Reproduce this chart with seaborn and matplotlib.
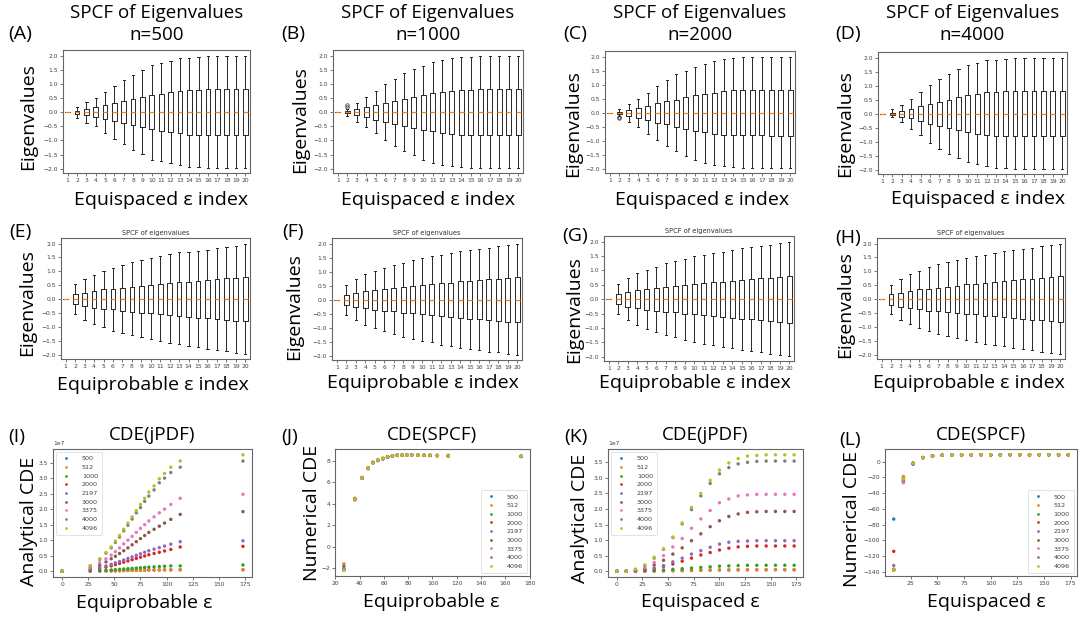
import numpy as np
import pandas as pd
import matplotlib
matplotlib.use("Agg")
import matplotlib.pyplot as plt
import seaborn as sns

W, H = 1080, 620
BIG = ['Open Sans', 'DejaVu Sans']

# ---------------- box statistics (eigenvalue SPCF) ----------------
IDX = list(range(1, 21))
MED = [0.0] * 20

A_hi = [0, 0.2, 0.35, 0.5, 0.72, 0.93, 1.15, 1.33, 1.5, 1.68, 1.75, 1.82, 1.9, 1.93, 1.96, 1.98, 2.0, 2.0, 2.0, 2.0]
A_q3 = [0, 0.05, 0.1, 0.18, 0.25, 0.32, 0.38, 0.46, 0.53, 0.6, 0.66, 0.7, 0.75, 0.78, 0.8, 0.81, 0.81, 0.81, 0.81, 0.81]
A_q1 = [0, -0.05, -0.1, -0.17, -0.25, -0.31, -0.38, -0.46, -0.53, -0.6, -0.66, -0.7, -0.75, -0.79, -0.8, -0.81, -0.81, -0.81, -0.81, -0.81]
A_lo = [0, -0.2, -0.38, -0.5, -0.72, -0.93, -1.12, -1.32, -1.47, -1.7, -1.72, -1.8, -1.87, -1.93, -1.95, -1.97, -1.98, -1.98, -1.98, -1.98]

B_hi = [0, 0.12, 0.33, 0.53, 0.75, 1.0, 1.18, 1.4, 1.53, 1.65, 1.78, 1.85, 1.9, 1.95, 1.97, 1.98, 1.98, 2.0, 2.0, 2.0]
B_q3 = [0, 0.04, 0.1, 0.17, 0.25, 0.33, 0.4, 0.48, 0.55, 0.62, 0.68, 0.72, 0.76, 0.79, 0.8, 0.81, 0.81, 0.81, 0.81, 0.81]
B_q1 = [0, -0.03, -0.1, -0.17, -0.26, -0.35, -0.42, -0.48, -0.56, -0.63, -0.68, -0.75, -0.78, -0.8, -0.8, -0.81, -0.81, -0.81, -0.81, -0.81]
B_lo = [0, -0.15, -0.35, -0.52, -0.75, -1.0, -1.2, -1.38, -1.52, -1.68, -1.78, -1.85, -1.9, -1.95, -1.97, -1.98, -1.98, -1.98, -1.98, -1.98]
B_fl2 = [0.2, 0.27]

C_hi = [0, 0.13, 0.3, 0.5, 0.72, 0.95, 1.18, 1.37, 1.5, 1.63, 1.75, 1.85, 1.9, 1.95, 1.97, 1.98, 1.98, 1.98, 2.0, 2.0]
C_q3 = [0, 0.03, 0.08, 0.17, 0.25, 0.33, 0.4, 0.47, 0.55, 0.62, 0.68, 0.72, 0.76, 0.8, 0.8, 0.81, 0.81, 0.81, 0.81, 0.81]
C_q1 = [0, -0.06, -0.1, -0.18, -0.27, -0.35, -0.42, -0.5, -0.57, -0.64, -0.7, -0.75, -0.78, -0.8, -0.81, -0.81, -0.81, -0.82, -0.82, -0.82]
C_lo = [0, -0.12, -0.32, -0.52, -0.75, -0.97, -1.18, -1.38, -1.53, -1.68, -1.78, -1.85, -1.9, -1.95, -1.97, -1.98, -1.98, -1.98, -1.98, -1.98]
C_fl2 = [-0.15, -0.2]

D_hi = [0, 0.15, 0.3, 0.53, 0.77, 1.02, 1.23, 1.4, 1.58, 1.72, 1.82, 1.9, 1.93, 1.95, 1.97, 1.98, 1.98, 2.0, 2.0, 2.0]
D_q3 = [0, 0.03, 0.08, 0.18, 0.26, 0.35, 0.42, 0.5, 0.58, 0.65, 0.72, 0.76, 0.78, 0.8, 0.8, 0.81, 0.81, 0.81, 0.81, 0.81]
D_q1 = [0, -0.03, -0.1, -0.17, -0.27, -0.35, -0.43, -0.5, -0.58, -0.65, -0.72, -0.77, -0.78, -0.8, -0.8, -0.81, -0.81, -0.81, -0.81, -0.81]
D_lo = [0, -0.13, -0.3, -0.55, -0.77, -1.03, -1.25, -1.42, -1.58, -1.72, -1.8, -1.88, -1.92, -1.95, -1.97, -1.98, -1.98, -1.98, -1.98, -1.98]

E_hi = [0, 0.53, 0.73, 0.88, 1.02, 1.13, 1.22, 1.32, 1.4, 1.48, 1.55, 1.62, 1.68, 1.7, 1.74, 1.78, 1.85, 1.88, 1.92, 2.0]
E_q3 = [0, 0.18, 0.24, 0.3, 0.35, 0.38, 0.42, 0.45, 0.49, 0.52, 0.56, 0.59, 0.62, 0.63, 0.66, 0.7, 0.73, 0.76, 0.77, 0.8]
E_q1 = [0, -0.18, -0.25, -0.3, -0.34, -0.37, -0.41, -0.45, -0.49, -0.51, -0.55, -0.58, -0.61, -0.64, -0.66, -0.69, -0.72, -0.76, -0.78, -0.8]
E_lo = [0, -0.55, -0.73, -0.9, -1.0, -1.13, -1.22, -1.3, -1.37, -1.43, -1.5, -1.57, -1.62, -1.68, -1.72, -1.78, -1.82, -1.87, -1.92, -1.96]

F_hi = [0, 0.53, 0.74, 0.9, 1.03, 1.12, 1.25, 1.32, 1.42, 1.48, 1.55, 1.6, 1.65, 1.72, 1.77, 1.82, 1.86, 1.9, 1.94, 2.0]
F_q3 = [0, 0.17, 0.24, 0.31, 0.35, 0.39, 0.42, 0.46, 0.49, 0.53, 0.56, 0.6, 0.61, 0.65, 0.68, 0.71, 0.74, 0.75, 0.79, 0.82]
F_q1 = [0, -0.18, -0.26, -0.3, -0.37, -0.4, -0.42, -0.46, -0.49, -0.52, -0.56, -0.59, -0.62, -0.65, -0.68, -0.7, -0.73, -0.76, -0.78, -0.8]
F_lo = [0, -0.55, -0.73, -0.9, -1.02, -1.13, -1.22, -1.32, -1.4, -1.47, -1.52, -1.6, -1.65, -1.72, -1.76, -1.8, -1.85, -1.88, -1.92, -1.97]

G_hi = [0, 0.52, 0.74, 0.9, 1.02, 1.13, 1.25, 1.32, 1.4, 1.5, 1.53, 1.6, 1.65, 1.7, 1.77, 1.8, 1.85, 1.9, 1.95, 2.0]
G_q3 = [0, 0.17, 0.24, 0.31, 0.35, 0.38, 0.42, 0.45, 0.49, 0.53, 0.56, 0.6, 0.61, 0.65, 0.67, 0.7, 0.74, 0.75, 0.78, 0.82]
G_q1 = [0, -0.18, -0.27, -0.3, -0.36, -0.4, -0.44, -0.46, -0.5, -0.53, -0.56, -0.6, -0.62, -0.65, -0.68, -0.7, -0.73, -0.76, -0.78, -0.82]
G_lo = [0, -0.52, -0.74, -0.9, -1.02, -1.15, -1.24, -1.32, -1.42, -1.5, -1.55, -1.6, -1.66, -1.7, -1.76, -1.8, -1.83, -1.9, -1.93, -1.97]

H_hi = [0, 0.52, 0.74, 0.9, 1.02, 1.16, 1.26, 1.35, 1.42, 1.48, 1.54, 1.6, 1.66, 1.72, 1.77, 1.8, 1.85, 1.9, 1.95, 2.0]
H_q3 = [0, 0.17, 0.24, 0.31, 0.35, 0.38, 0.42, 0.45, 0.49, 0.53, 0.56, 0.6, 0.61, 0.66, 0.68, 0.71, 0.74, 0.75, 0.8, 0.82]
H_q1 = [0, -0.2, -0.27, -0.31, -0.36, -0.41, -0.42, -0.46, -0.5, -0.52, -0.55, -0.59, -0.62, -0.65, -0.68, -0.7, -0.73, -0.76, -0.78, -0.82]
H_lo = [0, -0.52, -0.74, -0.9, -1.02, -1.15, -1.24, -1.33, -1.4, -1.48, -1.54, -1.6, -1.66, -1.7, -1.76, -1.8, -1.83, -1.9, -1.94, -1.98]

# ---------------- CDE scatter data ----------------
N_LABELS = ['500', '512', '1000', '2000', '2197', '3000', '3375', '4000', '4096']
COLORS = ['#1f77b4', '#ff7f0e', '#2ca02c', '#d62728', '#9467bd', '#8c564b', '#e377c2', '#7f7f7f', '#bcbd22']

EPS_PROB = [0, 27, 36, 42, 47, 51, 55, 59, 63, 67, 71, 75, 79, 83, 88, 93, 98, 104, 113, 173]
EPS_SPACE = [0, 9.1, 18.2, 27.3, 36.4, 45.5, 54.6, 63.7, 72.8, 81.9, 91.0, 100.1, 109.2, 118.3, 127.4, 136.5, 145.6, 154.7, 163.8, 172.9]

# analytical CDE vs equiprobable eps (x 1e7)
I_500 = [0, 0.0, 0.004, 0.007, 0.01, 0.012, 0.015, 0.018, 0.021, 0.024, 0.027, 0.03, 0.032, 0.035, 0.037, 0.039, 0.041, 0.043, 0.045, 0.047]
I_512 = [0, 0.0, 0.005, 0.008, 0.01, 0.013, 0.016, 0.019, 0.022, 0.025, 0.028, 0.031, 0.034, 0.037, 0.04, 0.042, 0.044, 0.046, 0.048, 0.05]
I_1000 = [0, 0.01, 0.02, 0.03, 0.04, 0.05, 0.06, 0.07, 0.08, 0.09, 0.1, 0.11, 0.12, 0.13, 0.14, 0.15, 0.16, 0.17, 0.17, 0.2]
I_2000 = [0, 0.04, 0.09, 0.13, 0.17, 0.21, 0.25, 0.29, 0.33, 0.37, 0.41, 0.45, 0.49, 0.53, 0.57, 0.61, 0.65, 0.7, 0.78, 0.8]
I_2197 = [0, 0.05, 0.12, 0.17, 0.22, 0.27, 0.31, 0.36, 0.41, 0.46, 0.51, 0.56, 0.61, 0.66, 0.71, 0.76, 0.81, 0.87, 0.95, 0.98]
I_3000 = [0, 0.1, 0.2, 0.3, 0.4, 0.48, 0.57, 0.66, 0.75, 0.85, 0.95, 1.05, 1.15, 1.25, 1.35, 1.45, 1.55, 1.67, 1.83, 1.92]
I_3375 = [0, 0.12, 0.27, 0.4, 0.52, 0.63, 0.75, 0.88, 1.0, 1.12, 1.25, 1.38, 1.5, 1.62, 1.75, 1.88, 2.0, 2.15, 2.35, 2.48]
I_4000 = [0, 0.17, 0.38, 0.58, 0.75, 0.93, 1.1, 1.3, 1.48, 1.68, 1.88, 2.05, 2.25, 2.42, 2.62, 2.85, 3.0, 3.18, 3.35, 3.55]
I_4096 = [0, 0.18, 0.4, 0.6, 0.78, 0.97, 1.15, 1.35, 1.55, 1.75, 1.95, 2.15, 2.35, 2.55, 2.75, 2.98, 3.15, 3.35, 3.55, 3.75]

# numerical CDE vs equiprobable eps
nan = float('nan')
J_500 = [nan, -1.8, 4.35, 6.35, 7.35, 7.85, 8.0, 8.15, 8.3, 8.42, 8.48, 8.5, 8.52, 8.55, 8.52, 8.5, 8.5, 8.48, 8.5, 8.42]
J_512 = [nan, -1.6, 4.5, 6.45, 7.3, 7.8, 8.05, 8.2, 8.35, 8.45, 8.5, 8.52, 8.53, 8.53, 8.5, 8.48, 8.47, 8.45, 8.42, 8.4]
J_1000 = [nan, -2.05, 4.4, 6.4, 7.3, 7.8, 8.05, 8.2, 8.35, 8.45, 8.5, 8.52, 8.53, 8.53, 8.52, 8.5, 8.5, 8.48, 8.45, 8.4]
J_2000 = [nan, -2.1, 4.4, 6.4, 7.25, 7.8, 8.05, 8.2, 8.35, 8.45, 8.5, 8.52, 8.53, 8.53, 8.52, 8.5, 8.5, 8.48, 8.45, 8.4]
J_2197 = [nan, -2.1, 4.45, 6.4, 7.3, 7.85, 8.05, 8.2, 8.35, 8.45, 8.5, 8.52, 8.53, 8.53, 8.52, 8.5, 8.5, 8.48, 8.45, 8.4]
J_3000 = [nan, -2.15, 4.4, 6.38, 7.3, 7.8, 8.05, 8.2, 8.35, 8.45, 8.5, 8.52, 8.53, 8.53, 8.52, 8.5, 8.5, 8.48, 8.45, 8.4]
J_3375 = [nan, -2.15, 4.42, 6.4, 7.3, 7.8, 8.05, 8.2, 8.35, 8.45, 8.5, 8.52, 8.53, 8.53, 8.52, 8.5, 8.5, 8.48, 8.45, 8.4]
J_4000 = [nan, -2.2, 4.4, 6.4, 7.3, 7.8, 8.05, 8.2, 8.35, 8.45, 8.5, 8.52, 8.53, 8.53, 8.52, 8.5, 8.5, 8.48, 8.45, 8.4]
J_4096 = [nan, -2.2, 4.4, 6.4, 7.3, 7.8, 8.05, 8.2, 8.35, 8.45, 8.5, 8.52, 8.53, 8.53, 8.52, 8.5, 8.5, 8.48, 8.45, 8.42]

# analytical CDE vs equispaced eps (x 1e7)
K_500 = [0, 0, 0, 0, 0.004, 0.008, 0.013, 0.018, 0.023, 0.028, 0.033, 0.037, 0.04, 0.043, 0.045, 0.046, 0.046, 0.046, 0.046, 0.046]
K_512 = [0, 0, 0, 0, 0.005, 0.01, 0.015, 0.02, 0.025, 0.03, 0.035, 0.04, 0.042, 0.045, 0.047, 0.048, 0.048, 0.048, 0.048, 0.048]
K_1000 = [0, 0, 0, 0.01, 0.02, 0.04, 0.06, 0.08, 0.1, 0.12, 0.14, 0.16, 0.17, 0.18, 0.19, 0.19, 0.19, 0.19, 0.19, 0.19]
K_2000 = [0, 0, 0.01, 0.03, 0.08, 0.15, 0.23, 0.32, 0.42, 0.52, 0.6, 0.68, 0.74, 0.78, 0.8, 0.81, 0.81, 0.81, 0.81, 0.81]
K_2197 = [0, 0, 0.01, 0.04, 0.1, 0.18, 0.3, 0.42, 0.55, 0.66, 0.77, 0.87, 0.93, 0.96, 0.97, 0.98, 0.98, 0.98, 0.98, 0.98]
K_3000 = [0, 0, 0.02, 0.08, 0.2, 0.35, 0.55, 0.75, 0.98, 1.2, 1.43, 1.62, 1.76, 1.84, 1.89, 1.91, 1.92, 1.92, 1.92, 1.92]
K_3375 = [0, 0, 0.03, 0.12, 0.28, 0.5, 0.78, 1.05, 1.38, 1.68, 1.95, 2.2, 2.32, 2.42, 2.45, 2.47, 2.47, 2.47, 2.47, 2.47]
K_4000 = [0, 0, 0.05, 0.18, 0.42, 0.7, 1.08, 1.52, 1.98, 2.42, 2.82, 3.13, 3.33, 3.45, 3.5, 3.53, 3.54, 3.54, 3.54, 3.54]
K_4096 = [0, 0, 0.07, 0.2, 0.45, 0.72, 1.1, 1.55, 2.05, 2.5, 2.92, 3.25, 3.48, 3.62, 3.7, 3.72, 3.74, 3.74, 3.74, 3.74]

# numerical CDE vs equispaced eps
L_500 = [nan, -73, -20, -2, 5, 7, 8, 8.3, 8.5, 8.6, 8.6, 8.6, 8.6, 8.6, 8.6, 8.6, 8.6, 8.6, 8.6, 8.6]
L_512 = [nan, -137, -19, -2, 5, 7, 8, 8.3, 8.5, 8.6, 8.6, 8.6, 8.6, 8.6, 8.6, 8.6, 8.6, 8.6, 8.6, 8.6]
L_1000 = [nan, -138, -22, -3, 5, 7, 8, 8.3, 8.5, 8.6, 8.6, 8.6, 8.6, 8.6, 8.6, 8.6, 8.6, 8.6, 8.6, 8.6]
L_2000 = [nan, -114, -24, -2.5, 5, 7, 8, 8.3, 8.5, 8.6, 8.6, 8.6, 8.6, 8.6, 8.6, 8.6, 8.6, 8.6, 8.6, 8.6]
L_2197 = [nan, -137, -25, -3, 5, 7, 8, 8.3, 8.5, 8.6, 8.6, 8.6, 8.6, 8.6, 8.6, 8.6, 8.6, 8.6, 8.6, 8.6]
L_3000 = [nan, -137, -26, -3, 5, 7, 8, 8.3, 8.5, 8.6, 8.6, 8.6, 8.6, 8.6, 8.6, 8.6, 8.6, 8.6, 8.6, 8.6]
L_3375 = [nan, -137, -27, -2.5, 5, 7, 8, 8.3, 8.5, 8.6, 8.6, 8.6, 8.6, 8.6, 8.6, 8.6, 8.6, 8.6, 8.6, 8.6]
L_4000 = [nan, -132, -23, -2, 5, 7, 8, 8.3, 8.5, 8.6, 8.6, 8.6, 8.6, 8.6, 8.6, 8.6, 8.6, 8.6, 8.6, 8.6]
L_4096 = [nan, -138, -22, -2, 5, 7, 8, 8.3, 8.5, 8.6, 8.6, 8.6, 8.6, 8.6, 8.6, 8.6, 8.6, 8.6, 8.6, 8.6]

I_SERIES = [I_500, I_512, I_1000, I_2000, I_2197, I_3000, I_3375, I_4000, I_4096]
J_SERIES = [J_500, J_512, J_1000, J_2000, J_2197, J_3000, J_3375, J_4000, J_4096]
K_SERIES = [K_500, K_512, K_1000, K_2000, K_2197, K_3000, K_3375, K_4000, K_4096]
L_SERIES = [L_500, L_512, L_1000, L_2000, L_2197, L_3000, L_3375, L_4000, L_4096]

# ---------------- figure ----------------
fig = plt.figure(figsize=(W / 100, H / 100), dpi=100)
fig.patch.set_facecolor('white')

LBL = 14


def add_ax(x0, y0, x1, y1):
    return fig.add_axes([x0 / W, 1 - y1 / H, (x1 - x0) / W, (y1 - y0) / H])


def ftext(x, y, s, size=13, **kw):
    fig.text(x / W, 1 - y / H, s, ha='center', va='center', fontsize=size, family=BIG, **kw)


def style_ax(ax):
    ax.tick_params(labelsize=4.3, length=2, width=0.5, pad=1.5, colors='0.25')
    for sp in ax.spines.values():
        sp.set_color('0.4')
        sp.set_linewidth(0.8)
    ax.set_facecolor('white')


def draw_box(ax, hi, q3, q1, lo, fliers2=None):
    stats = []
    for i in range(20):
        fl = fliers2 if (fliers2 is not None and i == 1) else []
        stats.append(dict(med=MED[i], q1=q1[i], q3=q3[i], whislo=lo[i], whishi=hi[i], fliers=fl))
    ax.bxp(stats, positions=IDX, widths=0.5,
           boxprops=dict(color='0.15', lw=0.7),
           whiskerprops=dict(color='0.15', lw=0.7),
           capprops=dict(color='0.15', lw=0.7),
           medianprops=dict(color='#ff7f0e', lw=0.9),
           flierprops=dict(marker='o', markersize=2.5, markerfacecolor='none',
                           markeredgecolor='0.15', markeredgewidth=0.5))
    ax.set_xticks(IDX)
    ax.set_xticklabels([str(i) for i in IDX])
    ax.set_yticks([-2.0, -1.5, -1.0, -0.5, 0.0, 0.5, 1.0, 1.5, 2.0])
    ax.set_ylim(-2.15, 2.2)
    style_ax(ax)


row1 = [
    ('(A)', 'n=500', (63, 50, 250, 173), (A_hi, A_q3, A_q1, A_lo, None), 20, 28, 117, 161, 200),
    ('(B)', 'n=1000', (333, 50, 523, 173), (B_hi, B_q3, B_q1, B_lo, B_fl2), 293, 300, 120, 428, 200),
    ('(C)', 'n=2000', (605, 51, 795, 173), (C_hi, C_q3, C_q1, C_lo, C_fl2), 575, 573, 124, 702, 200),
    ('(D)', 'n=4000', (878, 52, 1067, 174), (D_hi, D_q3, D_q1, D_lo, None), 848, 845, 124, 978, 199),
]
for lab, ttl, box, d, labx, ylx, yly, xlx, xly in row1:
    ax = add_ax(*box)
    draw_box(ax, *d)
    cx = (box[0] + box[2]) / 2
    ftext(cx, 13, 'SPCF of Eigenvalues', size=13.5)
    ftext(cx, 35, ttl, size=13.5)
    ftext(labx, 34, lab, size=14)
    ftext(ylx, yly, 'Eigenvalues', rotation=90, size=LBL)
    ftext(xlx, xly, 'Equispaced ε index', size=LBL)

row2 = [
    ('(E)', (61, 238, 250, 359), (E_hi, E_q3, E_q1, E_lo, None), 20, 232, 27, 303, 153, 385),
    ('(F)', (332, 238, 522, 360), (F_hi, F_q3, F_q1, F_lo, None), 293, 232, 294, 307, 423, 383),
    ('(G)', (604, 236, 794, 361), (G_hi, G_q3, G_q1, G_lo, None), 575, 236, 574, 310, 695, 383),
    ('(H)', (877, 238, 1065, 359), (H_hi, H_q3, H_q1, H_lo, None), 848, 238, 845, 305, 969, 383),
]
for lab, box, d, labx, laby, ylx, yly, xlx, xly in row2:
    ax = add_ax(*box)
    draw_box(ax, *d)
    ax.set_title('SPCF of eigenvalues', fontsize=4.8, pad=2, color='0.2')
    ftext(labx, laby, lab, size=14)
    ftext(ylx, yly, 'Eigenvalues', rotation=90, size=LBL)
    ftext(xlx, xly, 'Equiprobable ε index', size=LBL)


def scatter_panel(box, xs, series, legend_loc):
    ax = add_ax(*box)
    rows = []
    for lab, ys in zip(N_LABELS, series):
        for x, y in zip(xs, ys):
            rows.append((x, y, lab))
    df = pd.DataFrame(rows, columns=['eps', 'cde', 'n']).dropna()
    sns.scatterplot(data=df, x='eps', y='cde', hue='n', hue_order=N_LABELS,
                    palette=COLORS, s=6, linewidth=0, ax=ax)
    sns.move_legend(ax, legend_loc, title=None, fontsize=4.6, markerscale=0.8,
                    frameon=True, borderpad=0.6, labelspacing=0.5, handletextpad=1.4,
                    borderaxespad=0.5)
    leg = ax.get_legend()
    leg.get_frame().set_linewidth(0.5)
    leg.get_frame().set_edgecolor('0.8')
    for t in leg.get_texts():
        t.set_color('0.25')
    ax.set_xlabel('')
    ax.set_ylabel('')
    style_ax(ax)
    ax.yaxis.get_offset_text().set_fontsize(4.3)
    ax.yaxis.get_offset_text().set_color('0.25')
    return ax


# I
I_scaled = [[v * 1e7 for v in s] for s in I_SERIES]
axI = scatter_panel((53, 449, 252, 577), EPS_PROB, I_scaled, 'upper left')
axI.set_xticks([0, 25, 50, 75, 100, 125, 150, 175])
ftext(152, 435, 'CDE(jPDF)', size=13.5)
ftext(17, 437, '(I)', size=14)
ftext(29, 521, 'Analytical CDE', rotation=90, size=LBL)
ftext(144, 603, 'Equiprobable ε', size=LBL)

# J
axJ = scatter_panel((335, 449, 530, 576), EPS_PROB, J_SERIES, 'lower right')
axJ.set_xticks([20, 40, 60, 80, 100, 120, 140, 160, 180])
axJ.set_yticks([-2, 0, 2, 4, 6, 8])
ftext(432, 435, 'CDE(SPCF)', size=13.5)
ftext(290, 437, '(J)', size=14)
ftext(312, 513, 'Numerical CDE', rotation=90, size=LBL)
ftext(431, 602, 'Equiprobable ε', size=LBL)

# K
K_scaled = [[v * 1e7 for v in s] for s in K_SERIES]
axK = scatter_panel((608, 449, 803, 577), EPS_SPACE, K_scaled, 'upper left')
axK.set_xticks([0, 25, 50, 75, 100, 125, 150, 175])
ftext(705, 435, 'CDE(jPDF)', size=13.5)
ftext(576, 437, '(K)', size=14)
ftext(580, 518, 'Analytical CDE', rotation=90, size=LBL)
ftext(700, 602, 'Equispaced ε', size=LBL)

# L
axL = scatter_panel((885, 449, 1077, 576), EPS_SPACE, L_SERIES, 'lower right')
axL.set_xticks([25, 50, 75, 100, 125, 150, 175])
axL.set_yticks([0, -20, -40, -60, -80, -100, -120, -140])
ftext(981, 435, 'CDE(SPCF)', size=13.5)
ftext(850, 440, '(L)', size=14)
ftext(852, 519, 'Numerical CDE', rotation=90, size=LBL)
ftext(986, 602, 'Equispaced ε', size=LBL)

fig.savefig('out.png', dpi=100, facecolor='white')
